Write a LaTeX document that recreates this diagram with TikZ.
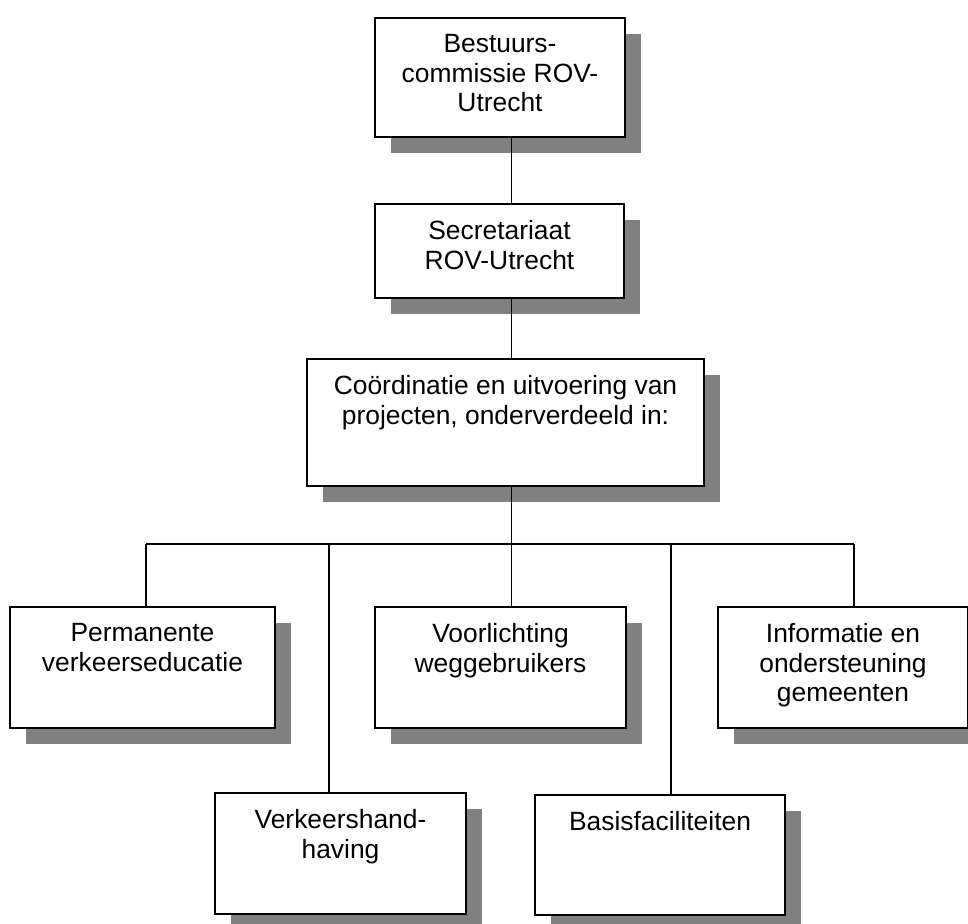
\documentclass[tikz,border=0pt]{standalone}
\usepackage{fontspec}
\setmainfont{Liberation Sans}
\usetikzlibrary{shadows}

\begin{document}
\begin{tikzpicture}[
		x=0.5pt, y=-0.5pt,
		font=\fontsize{13.2}{14.9}\selectfont,
		link/.style={line width=0.8pt},
		orgbox/.style={draw, line width=1pt, fill=white, inner sep=0pt, anchor=north west,
			drop shadow={shadow xshift=8pt, shadow yshift=-8pt, fill=gray, opacity=1}},
		boxtext/.style={anchor=north, inner sep=0pt, align=center, yshift=-8.4pt}
		]
		\useasboundingbox (0,0) rectangle (968,923);
		
		% ---- Top: board and secretariat ----
		\node[orgbox, minimum width=125pt, minimum height=59.5pt] (bestuur) at (374,17) {};
		\node[orgbox, minimum width=124.5pt, minimum height=47pt] (secr) at (374,203) {};
		
		% ---- Middle: coordination ----
		\node[orgbox, minimum width=198.5pt, minimum height=63.5pt] (coord) at (306,358) {};
		
		% ---- Row 1 of projects ----
		\node[orgbox, minimum width=132.5pt, minimum height=60.5pt] (perm) at (9,606) {};
		\node[orgbox, minimum width=125.5pt, minimum height=60.5pt] (voorl) at (374,606) {};
		\node[orgbox, minimum width=125pt, minimum height=60.5pt] (info) at (717,606) {};
		
		% ---- Row 2 of projects ----
		\node[orgbox, minimum width=125.5pt, minimum height=60.5pt] (handh) at (214,792) {};
		\node[orgbox, minimum width=125pt, minimum height=60pt] (basis) at (534,794) {};
		
		% ---- Texts (top aligned) ----
		\node[boxtext] (bestuur-t) at (bestuur.north) {Bestuurs-\\commissie ROV-\\Utrecht};
		\node[boxtext] (secr-t) at (secr.north) {Secretariaat\\ROV-Utrecht};
		\node[boxtext] (coord-t) at (coord.north) {Coördinatie en uitvoering van\\projecten, onderverdeeld in:};
		\node[boxtext] (perm-t) at (perm.north) {Permanente\\verkeerseducatie};
		\node[boxtext] (voorl-t) at (voorl.north) {Voorlichting\\weggebruikers};
		\node[boxtext] (info-t) at (info.north) {Informatie en\\ondersteuning\\gemeenten};
		\node[boxtext] (handh-t) at (handh.north) {Verkeershand-\\having};
		\node[boxtext] (basis-t) at (basis.north) {Basisfaciliteiten};
		
		% ---- Connectors ----
		\coordinate (spine) at (511.5,0);
		\coordinate (busL) at (146,544);
		\coordinate (tapH) at (329,544);
		\coordinate (tapB) at (671,544);
		\coordinate (busR) at (854,544);
		
		\draw[link] (bestuur.south -| spine) -- (secr.north -| spine);
		\draw[link] (secr.south -| spine) -- (coord.north -| spine);
		\draw[link] (coord.south -| spine) -- (voorl.north -| spine);
		\draw[link] (busL) -- (busR);
		\draw[link] (busL) -- (perm.north -| busL);
		\draw[link] (tapH) -- (handh.north -| tapH);
		\draw[link] (tapB) -- (basis.north -| tapB);
		\draw[link] (busR) -- (info.north -| busR);
	\end{tikzpicture}
\end{document}
